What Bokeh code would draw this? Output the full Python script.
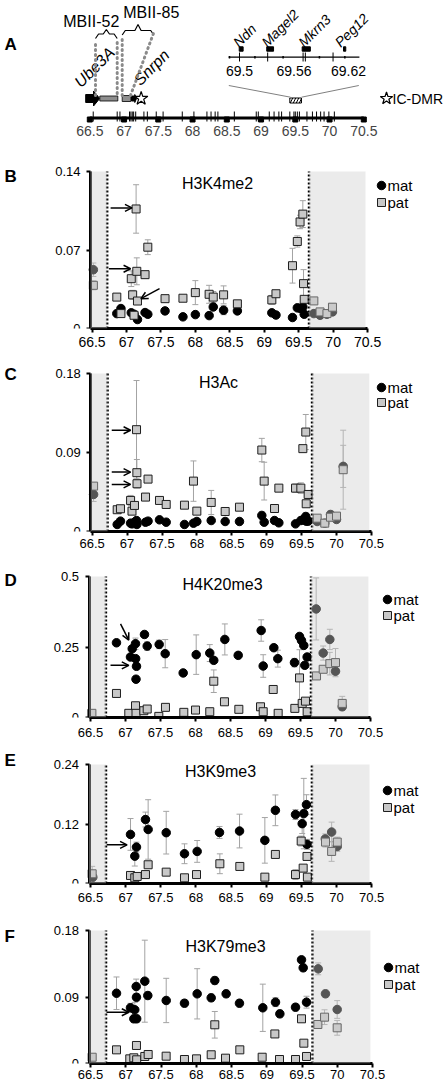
from bokeh.plotting import figure
from bokeh.layouts import column
from bokeh.models import (Range1d, FixedTicker, NumeralTickFormatter, BoxAnnotation,
                          Whisker, TeeHead, Arrow, OpenHead, ColumnDataSource)
from bokeh.embed import file_html
from bokeh.resources import INLINE
from bokeh.core.properties import value

FONT = "Liberation Sans"

# ---------------- shared ----------------
x_ticks = [66.5, 67, 67.5, 68, 68.5, 69, 69.5, 70, 70.5]
shade_left_end = 66.72
shade_right = (69.65, 70.47)

# ---------------- panel A : map ----------------
amplicons = [66.55, 66.90, 66.94, 67.08, 67.10, 67.12, 67.14, 67.17, 67.29, 67.34, 67.47,
             67.57, 67.85, 68.02, 68.21, 68.27, 68.33, 68.37, 68.61, 68.93, 68.96, 69.12,
             69.19, 69.26, 69.30, 69.42, 69.48, 69.50, 69.53, 69.56, 69.67, 69.75, 69.81,
             69.87, 69.92, 69.99, 70.07]
ube3a = (66.44, 66.645)
mbii52 = (66.646, 66.909)
mbii85 = (66.973, 67.099)
snrpn = (67.109, 67.182)
ic_dmr = 67.25
inset_region = (69.42, 69.59)
inset_span = (69.488, 69.632)
inset_ticks = [69.5, 69.56, 69.62]
inset_tick_labels = ["69.5", "69.56", "69.62"]
inset_marks = [69.5, 69.531, 69.570, 69.5725, 69.603]
inset_minor = [69.489, 69.517, 69.548, 69.588, 69.616]
inset_genes = ["Ndn", "Magel2", "Mkrn3", "Peg12"]
inset_gene_start = [69.4997, 69.530, 69.569, 69.6145]
inset_gene_end = [69.5040, 69.5375, 69.578, 69.6170]
inset_gene_label_x = [69.4956, 69.5268, 69.5675, 69.6076]

# ---------------- panel B : H3K4me2 ----------------
b_mat_x = [66.52, 66.86, 66.92, 67.07, 67.11, 67.16, 67.27, 67.31, 67.56, 67.82, 68.00, 68.20, 68.26,
           68.41, 68.61, 69.11, 69.17, 69.41, 69.48, 69.52, 69.56, 69.58, 69.72, 69.81, 69.91, 69.99]
b_mat_y = [0.0524, 0.0133, 0.0178, 0.0140, 0.0127, 0.0080, 0.0142, 0.0127, 0.0157, 0.0104, 0.0124,
           0.0115, 0.0192, 0.0163, 0.0157, 0.0140, 0.0120, 0.0098, 0.0184, 0.0180, 0.0192, 0.0127,
           0.0133, 0.0118, 0.0127, 0.0148]
b_mat_err = [0.006, 0.002, 0.002, 0.002, 0.002, 0.002, 0.002, 0.002, 0.002, 0.001, 0.002, 0.001, 0.002,
             0.004, 0.002, 0.002, 0.002, 0.001, 0.002, 0.003, 0.003, 0.002, 0.002, 0.002, 0.002, 0.003]
b_pat_x = [66.52, 66.86, 66.92, 67.07, 67.09, 67.11, 67.14, 67.15, 67.16, 67.27, 67.31, 67.56, 67.82,
           68.00, 68.20, 68.26, 68.41, 68.61, 69.11, 69.17, 69.41, 69.48, 69.52, 69.56, 69.57, 69.58,
           69.72, 69.81, 69.91, 69.99]
b_pat_y = [0.0385, 0.0280, 0.0133, 0.0444, 0.0300, 0.0118, 0.1066, 0.0510, 0.0245, 0.0480, 0.0725,
           0.0266, 0.0270, 0.0320, 0.0305, 0.0280, 0.0300, 0.0220, 0.0255, 0.0310, 0.0560, 0.0776,
           0.0950, 0.1020, 0.0400, 0.0260, 0.0246, 0.0148, 0.0133, 0.0190]
b_pat_err = [0.004, 0.003, 0.002, 0.007, 0.004, 0.002, 0.0216, 0.012, 0.003, 0.003, 0.0066, 0.003,
             0.002, 0.0107, 0.008, 0.005, 0.008, 0.003, 0.004, 0.003, 0.0155, 0.005, 0.006, 0.012,
             0.0125, 0.003, 0.002, 0.002, 0.002, 0.003]
b_arrows = [(66.77, 0.1075, 67.08, 0.1075), (66.745, 0.0533, 67.06, 0.0533), (67.48, 0.0355, 67.21, 0.0266)]

# ---------------- panel C : H3Ac ----------------
c_mat_x = [66.52, 66.858, 66.905, 67.05, 67.07, 67.106, 67.135, 67.14, 67.264, 67.30, 67.464, 67.56,
           67.822, 67.951, 67.999, 68.205, 68.405, 68.61, 68.93, 68.964, 69.112, 69.174, 69.413,
           69.489, 69.518, 69.56, 69.566, 69.594, 69.723, 69.832, 69.914, 70.0, 70.096]
c_mat_y = [0.0422, 0.0080, 0.0118, 0.0095, 0.0087, 0.0106, 0.0125, 0.0080, 0.0106, 0.0118, 0.0133,
           0.0106, 0.0080, 0.0095, 0.0114, 0.0125, 0.0114, 0.0114, 0.0183, 0.0106, 0.0125, 0.0099,
           0.0087, 0.0125, 0.0133, 0.0171, 0.0118, 0.0118, 0.0114, 0.0095, 0.0194, 0.0137, 0.0742]
c_mat_err = [0.008, 0.002, 0.003, 0.002, 0.002, 0.002, 0.002, 0.002, 0.002, 0.002, 0.002, 0.002, 0.002,
             0.002, 0.002, 0.002, 0.002, 0.002, 0.004, 0.002, 0.002, 0.002, 0.002, 0.002, 0.002, 0.004,
             0.002, 0.002, 0.002, 0.002, 0.004, 0.003, 0.024]
c_pat_x = [66.52, 66.858, 66.905, 67.05, 67.07, 67.106, 67.135, 67.14, 67.142, 67.264, 67.30, 67.464,
           67.56, 67.822, 67.951, 67.999, 68.205, 68.405, 68.61, 68.93, 68.964, 69.112, 69.174, 69.413,
           69.489, 69.518, 69.56, 69.566, 69.594, 69.723, 69.832, 69.914, 70.0, 70.096]
c_pat_y = [0.0517, 0.0248, 0.0259, 0.0354, 0.0232, 0.0297, 0.1160, 0.0670, 0.0544, 0.0392, 0.0597,
           0.0354, 0.0308, 0.0300, 0.0574, 0.0232, 0.0331, 0.0228, 0.0277, 0.0928, 0.0574, 0.0262,
           0.0494, 0.0494, 0.0494, 0.0944, 0.1133, 0.0316, 0.0422, 0.0152, 0.0095, 0.0163, 0.0175,
           0.0704]
c_pat_err = [0.004, 0.002, 0.002, 0.0057, 0.002, 0.003, 0.056, 0.015, 0.005, 0.004, 0.003, 0.004,
             0.003, 0.002, 0.023, 0.002, 0.0137, 0.002, 0.002, 0.0133, 0.0215, 0.002, 0.003, 0.0047,
             0.006, 0.003, 0.02, 0.003, 0.003, 0.002, 0.002, 0.005, 0.003, 0.045]
c_arrows = [(66.78, 0.1153, 67.05, 0.1153), (66.78, 0.0677, 67.05, 0.0677), (66.78, 0.0536, 67.05, 0.0536)]

# ---------------- panel D : H4K20me3 ----------------
d_mat_x = [66.871, 67.071, 67.096, 67.143, 67.145, 67.157, 67.150, 67.271, 67.31, 67.481, 67.567,
           67.824, 68.01, 68.204, 68.261, 68.419, 68.61, 68.938, 68.967, 69.119, 69.176, 69.414,
           69.486, 69.514, 69.547, 69.561, 69.595, 69.724, 69.824, 69.919, 70.0, 70.096]
d_mat_y = [0.265, 0.2145, 0.244, 0.2616, 0.2087, 0.1816, 0.1358, 0.2944, 0.2532, 0.2592, 0.2264,
           0.158, 0.2229, 0.2285, 0.2027, 0.2768, 0.2204, 0.3085, 0.1826, 0.2475, 0.2087, 0.1946,
           0.2874, 0.2733, 0.2556, 0.1851, 0.2145, 0.385, 0.2285, 0.2768, 0.164, 0.038]
d_mat_err = [0.01, 0.01, 0.01, 0.02, 0.01, 0.01, 0.01, 0.01, 0.015, 0.015, 0.05, 0.01, 0.07, 0.03,
             0.01, 0.055, 0.01, 0.038, 0.04, 0.01, 0.03, 0.015, 0.01, 0.01, 0.01, 0.01, 0.01, 0.11,
             0.025, 0.036, 0.01, 0.01]
d_pat_x = [66.52, 66.871, 67.047, 67.143, 67.15, 67.262, 67.31, 67.476, 67.571, 67.833, 68.0, 68.204,
           68.261, 68.414, 68.619, 68.929, 68.967, 69.11, 69.181, 69.419, 69.486, 69.524, 69.571,
           69.595, 69.729, 69.824, 69.919, 70.0, 70.096]
d_pat_y = [0.0148, 0.0853, 0.0148, 0.0416, 0.0148, 0.024, 0.030, 0.004, 0.036, 0.0183, 0.0264,
           0.0205, 0.1287, 0.0557, 0.029, 0.038, 0.0205, 0.0994, 0.0148, 0.0324, 0.1404, 0.050,
           0.058, 0.0205, 0.1474, 0.171, 0.191, 0.1946, 0.050]
d_pat_err = [0.003, 0.005, 0.003, 0.006, 0.003, 0.004, 0.004, 0.003, 0.004, 0.003, 0.004, 0.003,
             0.04, 0.005, 0.004, 0.005, 0.003, 0.005, 0.003, 0.004, 0.10, 0.005, 0.006, 0.005, 0.01,
             0.01, 0.04, 0.05, 0.025]
d_arrows = [(66.929, 0.332, 67.047, 0.2746), (66.786, 0.185, 67.047, 0.185)]

# ---------------- panel E : H3K9me3 ----------------
e_mat_x = [66.533, 67.069, 67.13, 67.154, 67.282, 67.32, 67.577, 67.837, 68.017, 68.335, 68.62,
           68.98, 69.13, 69.416, 69.511, 69.534, 69.572, 69.58, 69.84, 69.93, 70.01]
e_mat_y = [0.0128, 0.099, 0.0552, 0.0734, 0.129, 0.109, 0.1025, 0.060, 0.0647, 0.103, 0.1058,
           0.087, 0.1476, 0.139, 0.1207, 0.141, 0.159, 0.079, 0.090, 0.1038, 0.0748]
e_mat_err = [0.003, 0.032, 0.02, 0.01, 0.015, 0.06, 0.043, 0.02, 0.022, 0.012, 0.034, 0.046, 0.031,
             0.01, 0.02, 0.071, 0.02, 0.01, 0.01, 0.02, 0.01]
e_pat_x = [66.524, 67.069, 67.13, 67.164, 67.282, 67.32, 67.577, 67.837, 68.008, 68.34, 68.624,
           68.98, 69.13, 69.416, 69.497, 69.525, 69.58, 69.585, 69.843, 69.93, 70.01]
e_pat_y = [0.0196, 0.0162, 0.0115, 0.0142, 0.018, 0.0378, 0.0229, 0.0115, 0.018, 0.0398, 0.0344,
           0.0128, 0.0586, 0.018, 0.0856, 0.031, 0.0546, 0.0128, 0.0835, 0.0647, 0.0835]
e_pat_err = [0.015, 0.003, 0.003, 0.003, 0.003, 0.005, 0.003, 0.003, 0.003, 0.02, 0.004, 0.003,
             0.005, 0.01, 0.01, 0.005, 0.006, 0.003, 0.01, 0.02, 0.01]
e_arrows = [(66.73, 0.078, 67.02, 0.078)]

# ---------------- panel F : H3K79me3 ----------------
f_mat_x = [66.869, 67.067, 67.115, 67.128, 67.148, 67.152, 67.155, 67.27, 67.313, 67.574, 67.833,
           68.013, 68.212, 68.263, 68.424, 68.613, 68.944, 69.124, 69.186, 69.408, 69.493, 69.517,
           69.564, 69.73, 69.833, 69.999]
f_mat_y = [0.0951, 0.0754, 0.0605, 0.0727, 0.1042, 0.0897, 0.0605, 0.1114, 0.092, 0.0853, 0.0816,
           0.0943, 0.0889, 0.1123, 0.0943, 0.0816, 0.0754, 0.083, 0.0672, 0.0762, 0.1403, 0.1295,
           0.083, 0.1281, 0.0943, 0.0731]
f_mat_err = [0.022, 0.006, 0.005, 0.01, 0.01, 0.005, 0.005, 0.0555, 0.005, 0.03, 0.005, 0.034, 0.005,
             0.005, 0.005, 0.005, 0.032, 0.006, 0.005, 0.005, 0.004, 0.005, 0.008, 0.008, 0.005, 0.012]
f_pat_x = [66.524, 66.869, 67.057, 67.114, 67.152, 67.155, 67.27, 67.318, 67.573, 67.833, 68.004,
           68.212, 68.263, 68.415, 68.618, 68.935, 69.115, 69.181, 69.408, 69.493, 69.526, 69.564,
           69.725, 69.82, 69.999]
f_pat_y = [0.0085, 0.0185, 0.0063, 0.0077, 0.0244, 0.005, 0.0095, 0.0122, 0.0099, 0.0054, 0.0063,
           0.0118, 0.0524, 0.0072, 0.0185, 0.0085, 0.040, 0.0054, 0.0054, 0.0605, 0.0275, 0.0095,
           0.0528, 0.0627, 0.0483]
f_pat_err = [0.003, 0.002, 0.002, 0.002, 0.003, 0.002, 0.002, 0.002, 0.002, 0.002, 0.002, 0.002,
             0.018, 0.002, 0.002, 0.002, 0.003, 0.002, 0.002, 0.004, 0.003, 0.002, 0.004, 0.01, 0.01]
f_arrows = [(66.727, 0.0694, 67.043, 0.0694)]

W = 447

# =============== Panel A ===============
A_PPM = 68.5
A_X0 = 66.5 - 89.3 / A_PPM
A_X1 = A_X0 + W / A_PPM
I_PPM = 908.3
I_X0 = 69.5 - 239 / I_PPM
I_X1 = I_X0 + W / I_PPM

pa = figure(width=W, height=156, x_range=Range1d(A_X0, A_X1), y_range=Range1d(124, 0),
            title=None, output_backend="svg", toolbar_location=None, y_axis_location=None,
            min_border_left=0, min_border_right=0, min_border_top=0, min_border_bottom=32)
pa.extra_x_ranges = {"inset": Range1d(I_X0, I_X1)}
pa.xgrid.visible = False
pa.ygrid.visible = False
pa.outline_line_color = None
axA = pa.xaxis[0]
axA.ticker = FixedTicker(ticks=x_ticks)
axA.formatter = NumeralTickFormatter(format="0.[0]")
axA.axis_line_color = None
axA.major_tick_line_color = None
axA.minor_tick_line_color = None
axA.major_tick_out = 0
axA.major_tick_in = 0
axA.major_label_standoff = 1
axA.major_label_text_font = FONT
axA.major_label_text_font_size = "14px"


def XA(px):
    return A_X0 + px / A_PPM


# main map
pa.line([x_ticks[0], x_ticks[-1]], [117.5, 117.5], line_width=3, color="black")
pa.scatter(x_ticks, [119] * len(x_ticks), marker="square", size=5, color="black")
pa.segment(x0=amplicons, y0=[111] * len(amplicons), x1=amplicons, y1=[121] * len(amplicons),
           line_width=1, color="black")

# genes on the map
s, e = ube3a
neck = s + 0.56 * (e - s)
pa.patch([s, neck, neck, e, neck, neck, s], [94, 94, 90.5, 98, 105.5, 102, 102], color="black")
pa.quad(left=[mbii52[0], mbii85[0]], right=[mbii52[1], mbii85[1]], top=[95.5, 95], bottom=[100.5, 101],
        fill_color="#8e8e8e", line_color="black", line_width=0.8)
s2, e2 = snrpn
n2 = s2 + 0.65 * (e2 - s2)
pa.patch([s2, n2, n2, e2, n2, n2, s2], [95.5, 95.5, 94, 98, 102, 100.5, 100.5], color="black")
pa.scatter([ic_dmr], [98], marker="star", size=14, fill_color="white", line_color="black", line_width=1.2)
pa.quad(left=[inset_region[0]], right=[inset_region[1]], top=[97.5], bottom=[102.5],
        fill_color="white", line_color="black", line_width=1,
        hatch_pattern="/", hatch_scale=6, hatch_weight=1, hatch_color="black")
pa.segment(x0=[XA(290), XA(301)], y0=[96.7, 96.7], x1=[XA(228.3), XA(358.3)], y1=[85, 85],
           line_color="#808080", line_width=1)

# inset
pa.line(list(inset_span), [56.7, 56.7], line_width=1.2, color="black", x_range_name="inset")
pa.segment(x0=inset_marks, y0=[52] * len(inset_marks), x1=inset_marks, y1=[61] * len(inset_marks),
           color="black", line_width=1, x_range_name="inset")
pa.segment(x0=inset_minor, y0=[55.5] * len(inset_minor), x1=inset_minor, y1=[58] * len(inset_minor),
           color="black", line_width=1.5, x_range_name="inset")
pa.quad(left=inset_gene_start, right=inset_gene_end, top=[46.3] * 4, bottom=[50.7] * 4,
        color="black", x_range_name="inset")
pa.text(inset_ticks, [70] * 3, text=inset_tick_labels, text_font=value(FONT), text_font_size="14px",
        text_align="center", text_baseline="middle", x_range_name="inset")
pa.text(inset_gene_label_x, [44] * 4, text=inset_genes, angle=45, angle_units="deg",
        text_font=value(FONT), text_font_size="14px", text_font_style="italic",
        text_align="left", text_baseline="alphabetic", x_range_name="inset")

# gene labels for the main map
pa.text([XA(76.7), XA(136)], [84, 82], text=["Ube3A", "Snrpn"], angle=45, angle_units="deg",
        text_font=value(FONT), text_font_size="16px", text_font_style="italic",
        text_align="left", text_baseline="alphabetic")
pa.text([XA(90.8), XA(150.8)], [21, 12], text=["MBII-52", "MBII-85"], text_font=value(FONT),
        text_font_size="16px", text_align="center", text_baseline="middle")


def brace(xa, xb, y_end, y_flat, y_peak):
    d = 0.045
    xm = (xa + xb) / 2
    return ([xa, xa + d, xm - d, xm, xm + d, xb - d, xb],
            [y_end, y_flat, y_flat, y_peak, y_flat, y_flat, y_end])


bx, by = brace(XA(95), XA(116.7), 38, 33.5, 29)
pa.line(bx, by, color="black", line_width=1.2)
bx, by = brace(XA(121.7), XA(153.3), 34.5, 30, 24)
pa.line(bx, by, color="black", line_width=1.2)

pa.segment(x0=[XA(95), XA(116.7), XA(121.7), XA(130)], y0=[95, 93, 95, 95],
           x1=[XA(95), XA(116.7), XA(121.7), XA(153.3)], y1=[40, 38, 36, 32],
           line_color="#8a8a8a", line_width=3, line_dash="1 4", line_cap="round")

pa.scatter([XA(386)], [98], marker="star", size=13, fill_color="white", line_color="black", line_width=1.2)
pa.text([XA(392)], [98.5], text=["IC-DMR"], text_font=value(FONT), text_font_size="14px",
        text_align="left", text_baseline="middle")
pa.text([XA(4)], [44], text=["A"], text_font=value(FONT), text_font_size="17px",
        text_font_style="bold", text_align="left", text_baseline="middle")


# =============== Panels B-F ===============
def build(letter, title, yticks, mat, pat, arrows, g):
    ppm = g["ppm"]
    xs = 66.5 - g["p665"] / ppm
    xe = xs + W / ppm
    ax_x = 66.5 - 1.5 / ppm
    ymax = yticks[-1]
    fh = g["h"] - g["bt"] - g["bb"]          # height of the 0..ymax part
    ytop = ymax * (fh + g["bt"]) / fh         # frame reaches the figure top
    p = figure(width=W, height=g["h"], x_range=Range1d(xs, xe), y_range=Range1d(0, ytop),
               title=None, output_backend="svg", toolbar_location=None,
               min_border_left=0, min_border_right=0, min_border_top=0, min_border_bottom=g["bb"])
    fb = g["top"] + g["bt"] + fh

    def X(px):
        return xs + px / ppm

    def Y(ry):
        return ymax * (fb - ry) / fh

    p.xgrid.visible = False
    p.ygrid.visible = False
    p.outline_line_color = None
    xa = p.xaxis[0]
    xa.ticker = FixedTicker(ticks=x_ticks)
    xa.formatter = NumeralTickFormatter(format="0.[0]")
    xa.bounds = (ax_x, x_ticks[-1])
    ya = p.yaxis[0]
    ya.ticker = FixedTicker(ticks=yticks)
    ya.formatter = NumeralTickFormatter(format="0.[00]")
    ya.fixed_location = ax_x
    ya.bounds = (0, ymax)
    for a in (xa, ya):
        a.axis_line_width = 3
        a.axis_line_color = "black"
        a.major_tick_line_width = 2
        a.major_tick_out = 4
        a.major_tick_in = 0
        a.minor_tick_line_color = None
        a.major_label_text_font = FONT
        a.major_label_text_color = "black"
    xa.major_label_text_font_size = g["xfs"]
    xa.major_label_standoff = g["std"]
    ya.major_label_text_font_size = "13px"
    ya.major_label_standoff = 6

    # error bars
    for (px_, py_, pe_) in (mat, pat):
        src = ColumnDataSource(dict(x=px_, u=[a + b for a, b in zip(py_, pe_)],
                                    l=[a - b for a, b in zip(py_, pe_)]))
        p.add_layout(Whisker(base="x", upper="u", lower="l", source=src, line_color="#a3a3a3",
                             line_width=1,
                             upper_head=TeeHead(size=6, line_color="#a3a3a3", line_width=1),
                             lower_head=TeeHead(size=6, line_color="#a3a3a3", line_width=1)))
    p.scatter(mat[0], mat[1], marker="circle", size=8.5, fill_color="black", line_color="black")
    p.scatter(pat[0], pat[1], marker="square", size=8, fill_color="#c8c8c8", line_color="#1e1e1e",
              line_width=1)

    # shaded regions (drawn on top, translucent)
    p.add_layout(BoxAnnotation(left=ax_x, right=shade_left_end, bottom=0, top=ymax, fill_color="#cfcfcf",
                               fill_alpha=0.41, line_color=None, level="overlay"))
    p.add_layout(BoxAnnotation(left=shade_right[0], right=shade_right[1], bottom=0, top=ymax,
                               fill_color="#cfcfcf", fill_alpha=0.41, line_color=None, level="overlay"))
    p.segment(x0=[shade_left_end, shade_right[0]], y0=[0, 0], x1=[shade_left_end, shade_right[0]],
              y1=[ymax, ymax], line_color="black", line_width=2.5, line_dash="2 2", level="overlay")

    for (x0, y0, x1, y1) in arrows:
        p.add_layout(Arrow(x_start=x0, y_start=y0, x_end=x1, y_end=y1, line_width=1.5,
                           line_color="black", end=OpenHead(size=7, line_width=1.5, line_color="black")))

    tx, ty = g["title"]
    p.text([X(tx)], [Y(ty)], text=[title], text_font=value(FONT), text_font_size="16px",
           text_align="center", text_baseline="middle")
    lx, l1, l2 = g["leg"]
    p.scatter([X(lx)], [Y(l1)], marker="circle", size=8.5, fill_color="black", line_color="black")
    p.scatter([X(lx)], [Y(l2)], marker="square", size=8, fill_color="#c8c8c8", line_color="#1e1e1e")
    p.text([X(lx + 6), X(lx + 6)], [Y(l1), Y(l2)], text=["mat", "pat"], text_font=value(FONT),
           text_font_size="15px", text_align="left", text_baseline="middle")
    p.text([X(4)], [Y(g["ly"])], text=[letter], text_font=value(FONT), text_font_size="17px",
           text_font_style="bold", text_align="left", text_baseline="middle")
    return p


geom = {
    "B": dict(h=196, top=156, bt=15, bb=24, p665=91.5, ppm=68.9, std=4, xfs="14px",
              title=(217, 183), leg=(381, 185, 202), ly=176),
    "C": dict(h=201, top=352, bt=21, bb=22, p665=91.7, ppm=69.8, std=3, xfs="13px",
              title=(218, 382), leg=(381, 387, 402), ly=374),
    "D": dict(h=189, top=553, bt=23, bb=25, p665=90.0, ppm=70.0, std=6, xfs="13px",
              title=(222, 584), leg=(387, 599, 615), ly=580),
    "E": dict(h=165, top=742, bt=22, bb=24, p665=90.0, ppm=70.3, std=5, xfs="13px",
              title=(220, 771), leg=(387, 790, 807), ly=760),
    "F": dict(h=177, top=907, bt=23, bb=21, p665=90.0, ppm=70.5, std=2, xfs="13px",
              title=(225, 946), leg=(388, 967, 984), ly=936),
}

pb = build("B", "H3K4me2", [0, 0.07, 0.14], (b_mat_x, b_mat_y, b_mat_err), (b_pat_x, b_pat_y, b_pat_err),
           b_arrows, geom["B"])
pc = build("C", "H3Ac", [0, 0.09, 0.18], (c_mat_x, c_mat_y, c_mat_err), (c_pat_x, c_pat_y, c_pat_err),
           c_arrows, geom["C"])
pd = build("D", "H4K20me3", [0, 0.25, 0.5], (d_mat_x, d_mat_y, d_mat_err), (d_pat_x, d_pat_y, d_pat_err),
           d_arrows, geom["D"])
pe = build("E", "H3K9me3", [0, 0.12, 0.24], (e_mat_x, e_mat_y, e_mat_err), (e_pat_x, e_pat_y, e_pat_err),
           e_arrows, geom["E"])
pf = build("F", "H3K79me3", [0, 0.09, 0.18], (f_mat_x, f_mat_y, f_mat_err), (f_pat_x, f_pat_y, f_pat_err),
           f_arrows, geom["F"])

layout = column(pa, pb, pc, pd, pe, pf, spacing=0)
open("out.html", "w").write(file_html(layout, INLINE))
